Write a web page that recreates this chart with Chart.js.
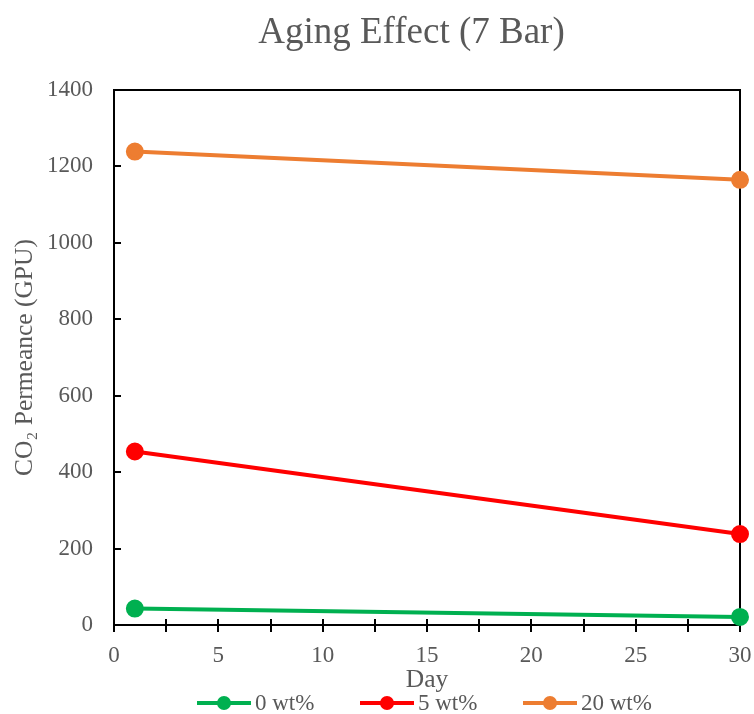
<!DOCTYPE html>
<html>
<head>
<meta charset="utf-8">
<script src="https://cdn.jsdelivr.net/npm/chart.js@4/dist/chart.umd.min.js"></script>
<style>
  html, body { margin: 0; padding: 0; background: #fff; overflow: hidden; }
  #wrap { width: 754px; height: 714px; }
  canvas { display: block; }
</style>
</head>
<body>
<div id="wrap"><canvas id="agingChart" width="754" height="714"></canvas></div>
<script>
const chartTitle = "Aging Effect (7 Bar)";
const days = [1, 30];
const wt0 = [43, 21];
const wt5 = [454, 238];
const wt20 = [1239, 1165];
const seriesLabels = ["0 wt%", "5 wt%", "20 wt%"];
const seriesColors = ["#00B050", "#FF0000", "#ED7D31"];

const FONT = "'Liberation Serif', 'Times New Roman', serif";
const GRAY = "#595959";

function toPoints(vals) {
    return days.map((d, i) => ({ x: d, y: vals[i] }));
}

// box round the plot, inward y ticks and crossing x ticks (every 2.5)
const frame = {
    id: "frame",
    beforeDatasetsDraw(chart) {
        const { ctx, chartArea: a, scales } = chart;
        ctx.save();
        ctx.strokeStyle = "#000";
        ctx.lineWidth = 2;
        ctx.strokeRect(a.left, a.top, a.right - a.left, a.bottom - a.top);
        ctx.beginPath();
        for (let v = 200; v < 1400; v += 200) {
            const y = Math.round(scales.y.getPixelForValue(v));
            ctx.moveTo(a.left, y);
            ctx.lineTo(a.left + 7, y);
        }
        for (let v = 0; v <= 30; v += 2.5) {
            const x = Math.round(scales.x.getPixelForValue(v));
            ctx.moveTo(x, a.bottom - 6);
            ctx.lineTo(x, a.bottom + 7);
        }
        ctx.stroke();
        ctx.restore();
    }
};

// title sits a bit left of the plot centre, so it is drawn here
// legend in Excel style: line with a dot in the middle
const extras = {
    id: "extras",
    afterDraw(chart) {
        const { ctx } = chart;
        ctx.save();
        ctx.fillStyle = GRAY;
        ctx.font = "37px " + FONT;
        ctx.textAlign = "center";
        ctx.textBaseline = "middle";
        ctx.fillText(chartTitle, 411.5, 33);

        const y = 703;
        const starts = [197, 360, 523];
        ctx.font = "23px " + FONT;
        ctx.textAlign = "left";
        chart.data.datasets.forEach((ds, i) => {
            const x0 = starts[i];
            ctx.strokeStyle = ds.borderColor;
            ctx.lineWidth = 4;
            ctx.beginPath();
            ctx.moveTo(x0, y);
            ctx.lineTo(x0 + 54, y);
            ctx.stroke();
            ctx.fillStyle = ds.borderColor;
            ctx.beginPath();
            ctx.arc(x0 + 27, y, 7, 0, Math.PI * 2);
            ctx.fill();
            ctx.fillStyle = GRAY;
            ctx.fillText(ds.label, x0 + 58, y + 1);
        });
        ctx.restore();
    }
};

function makeDataset(i, vals) {
    return {
        label: seriesLabels[i],
        data: toPoints(vals),
        borderColor: seriesColors[i],
        backgroundColor: seriesColors[i],
        borderWidth: 4,
        pointRadius: 7,
        pointHoverRadius: 7,
        fill: false,
        clip: false
    };
}

const ctx = document.getElementById("agingChart").getContext("2d");
const chart = new Chart(ctx, {
    type: "line",
    data: {
        datasets: [
            makeDataset(0, wt0),
            makeDataset(1, wt5),
            makeDataset(2, wt20)
        ]
    },
    options: {
        responsive: false,
        animation: false,
        layout: { autoPadding: false, padding: { left: 0, right: 0, top: 90, bottom: 18 } },
        plugins: {
            legend: { display: false },
            tooltip: { enabled: false },
            title: { display: false }
        },
        scales: {
            x: {
                type: "linear",
                min: 0,
                max: 30,
                grid: { display: false, drawTicks: false },
                border: { display: false },
                ticks: {
                    stepSize: 5,
                    color: GRAY,
                    padding: 17,
                    maxRotation: 0,
                    font: { family: FONT, size: 23 }
                },
                title: {
                    display: true,
                    text: "Day",
                    color: GRAY,
                    font: { family: FONT, size: 25.5 },
                    padding: { top: 0, bottom: 0 }
                },
                afterFit(scale) {
                    scale.height = 696 - 625;
                    scale.paddingLeft = 0;
                    scale.paddingRight = 14;
                }
            },
            y: {
                min: 0,
                max: 1400,
                grid: { display: false, drawTicks: false },
                border: { display: false },
                ticks: {
                    stepSize: 200,
                    color: GRAY,
                    padding: 21,
                    font: { family: FONT, size: 23 },
                    callback: v => String(v)
                },
                title: {
                    display: true,
                    text: "CO\u2082 Permeance (GPU)",
                    color: GRAY,
                    font: { family: FONT, size: 25.5 },
                    padding: { top: 10, bottom: 0 }
                },
                afterFit(scale) { scale.width = 114; }
            }
        }
    },
    plugins: [frame, extras]
});
</script>
</body>
</html>
